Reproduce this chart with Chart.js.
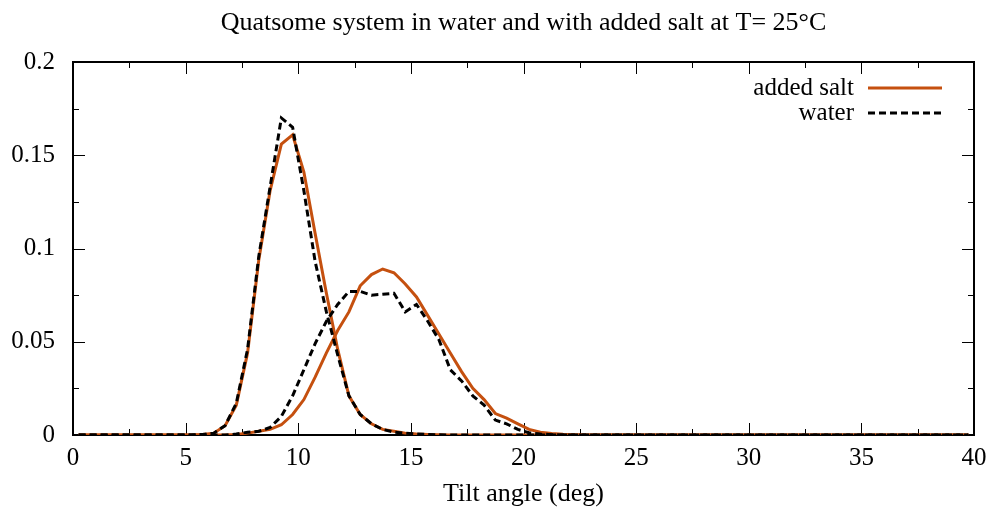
<!DOCTYPE html>
<html>
<head>
<meta charset="utf-8">
<title>Quatsome tilt angle</title>
<script src="https://cdn.jsdelivr.net/npm/chart.js@4.4.1/dist/chart.umd.min.js"></script>
<style>
  html, body { margin: 0; padding: 0; background: #fff; }
  canvas { display: block; }
</style>
</head>
<body>
<canvas id="tiltChart" width="991" height="514"></canvas>
<script>
// bin centres, deg
const angles = [
  0.25, 0.75, 1.25, 1.75, 2.25, 2.75, 3.25, 3.75, 4.25, 4.75,
  5.25, 5.75, 6.25, 6.75, 7.25, 7.75, 8.25, 8.75, 9.25, 9.75,
  10.25, 10.75, 11.25, 11.75, 12.25, 12.75, 13.25, 13.75, 14.25, 14.75,
  15.25, 15.75, 16.25, 16.75, 17.25, 17.75, 18.25, 18.75, 19.25, 19.75,
  20.25, 20.75, 21.25, 21.75, 22.25, 22.75, 23.25, 23.75, 24.25, 24.75,
  25.25, 25.75, 26.25, 26.75, 27.25, 27.75, 28.25, 28.75, 29.25, 29.75,
  30.25, 30.75, 31.25, 31.75, 32.25, 32.75, 33.25, 33.75, 34.25, 34.75,
  35.25, 35.75, 36.25, 36.75, 37.25, 37.75, 38.25, 38.75, 39.25, 39.75
];

// added salt
const saltNarrow = [
  0, 0, 0, 0, 0, 0, 0, 0, 0, 0,
  0, 0.0003, 0.001, 0.005, 0.016, 0.044, 0.094, 0.131, 0.156, 0.161,
  0.141, 0.108, 0.076, 0.046, 0.021, 0.011, 0.006, 0.003, 0.002, 0.001,
  0.0005, 0.0003, 0.0001, 0, 0, 0, 0, 0, 0, 0,
  0, 0, 0, 0, 0, 0, 0, 0, 0, 0,
  0, 0, 0, 0, 0, 0, 0, 0, 0, 0,
  0, 0, 0, 0, 0, 0, 0, 0, 0, 0,
  0, 0, 0, 0, 0, 0, 0, 0, 0, 0
];
const saltBroad = [
  0, 0, 0, 0, 0, 0, 0, 0, 0, 0,
  0, 0, 0, 0, 0.0003, 0.001, 0.002, 0.003, 0.0055, 0.011,
  0.019, 0.031, 0.044, 0.056, 0.066, 0.080, 0.086, 0.089, 0.087, 0.081,
  0.074, 0.064, 0.054, 0.044, 0.034, 0.025, 0.019, 0.0115, 0.009, 0.006,
  0.003, 0.0015, 0.0008, 0.0004, 0.0002, 0, 0, 0, 0, 0,
  0, 0, 0, 0, 0, 0, 0, 0, 0, 0,
  0, 0, 0, 0, 0, 0, 0, 0, 0, 0,
  0, 0, 0, 0, 0, 0, 0, 0, 0, 0
];

// water
const waterNarrow = [
  0, 0, 0, 0, 0, 0, 0, 0, 0, 0,
  0, 0.0003, 0.001, 0.005, 0.017, 0.046, 0.096, 0.133, 0.170, 0.165,
  0.131, 0.093, 0.066, 0.043, 0.021, 0.011, 0.006, 0.003, 0.0015, 0.001,
  0.0005, 0.0003, 0.0001, 0, 0, 0, 0, 0, 0, 0,
  0, 0, 0, 0, 0, 0, 0, 0, 0, 0,
  0, 0, 0, 0, 0, 0, 0, 0, 0, 0,
  0, 0, 0, 0, 0, 0, 0, 0, 0, 0,
  0, 0, 0, 0, 0, 0, 0, 0, 0, 0
];
const waterBroad = [
  0, 0, 0, 0, 0, 0, 0, 0, 0, 0,
  0, 0, 0, 0, 0.0005, 0.0015, 0.002, 0.004, 0.010, 0.021,
  0.035, 0.049, 0.061, 0.070, 0.077, 0.077, 0.075, 0.0755, 0.076, 0.066,
  0.070, 0.061, 0.051, 0.035, 0.029, 0.021, 0.016, 0.008, 0.006, 0.003,
  0.0012, 0.0005, 0.0002, 0, 0, 0, 0, 0, 0, 0,
  0, 0, 0, 0, 0, 0, 0, 0, 0, 0,
  0, 0, 0, 0, 0, 0, 0, 0, 0, 0,
  0, 0, 0, 0, 0, 0, 0, 0, 0, 0
];

// axes
const xTicks = [0, 5, 10, 15, 20, 25, 30, 35, 40];
const xTickLabels = ["0", "5", "10", "15", "20", "25", "30", "35", "40"];
const yTicks = [0, 0.05, 0.1, 0.15, 0.2];
const yTickLabels = ["0", "0.05", "0.1", "0.15", "0.2"];
const chartTitle = "Quatsome system in water and with added salt at T= 25°C";

const serif = "'Liberation Serif', 'DejaVu Serif', serif";
const SALT = "#c5500f";

const pts = (vals) => angles.map((a, i) => ({ x: a, y: vals[i] }));

// gnuplot-style border with inward ticks on all four sides
const framePlugin = {
  id: "frame",
  beforeDatasetsDraw(chart) {
    const { ctx, chartArea: a, scales: { x, y } } = chart;
    ctx.save();
    ctx.strokeStyle = "#000";
    ctx.lineWidth = 1;
    for (let v = 0; v <= 40; v += 2.5) {
      const px = Math.round(x.getPixelForValue(v)) + 0.5;
      const len = v % 5 === 0 ? 12 : 6;
      ctx.beginPath();
      ctx.moveTo(px, a.bottom); ctx.lineTo(px, a.bottom - len);
      ctx.moveTo(px, a.top); ctx.lineTo(px, a.top + len);
      ctx.stroke();
    }
    for (let v = 0; v <= 0.2001; v += 0.025) {
      const py = Math.round(y.getPixelForValue(v)) + 0.5;
      const len = Math.round(v / 0.025) % 2 === 0 ? 12 : 6;
      ctx.beginPath();
      ctx.moveTo(a.left, py); ctx.lineTo(a.left + len, py);
      ctx.moveTo(a.right, py); ctx.lineTo(a.right - len, py);
      ctx.stroke();
    }
    ctx.lineWidth = 2;
    ctx.strokeRect(a.left, a.top, a.right - a.left, a.bottom - a.top);

    // title, centred over the plot box
    ctx.fillStyle = "#000";
    ctx.font = "26px " + serif;
    ctx.textAlign = "center";
    ctx.textBaseline = "middle";
    ctx.fillText(chartTitle, (a.left + a.right) / 2, 23);
    ctx.restore();
  }
};

// key in the top right: text first, then line sample
const keyPlugin = {
  id: "gnuKey",
  afterDatasetsDraw(chart) {
    const { ctx, chartArea: a } = chart;
    const keyed = chart.data.datasets.filter(d => d.showKey);
    ctx.save();
    ctx.font = "25px " + serif;
    ctx.textAlign = "right";
    ctx.textBaseline = "middle";
    keyed.forEach((d, i) => {
      const yy = a.top + 26 + i * 25;
      ctx.fillStyle = "#000";
      ctx.fillText(d.label, a.right - 120, yy);
      ctx.strokeStyle = d.borderColor;
      ctx.lineWidth = 3;
      ctx.setLineDash(d.borderDash || []);
      ctx.beginPath();
      ctx.moveTo(a.right - 106, yy);
      ctx.lineTo(a.right - 32, yy);
      ctx.stroke();
    });
    ctx.restore();
  }
};

const line = (label, vals, color, dash, order, showKey) => ({
  label, data: pts(vals), borderColor: color, borderWidth: 3,
  borderDash: dash, borderCapStyle: "butt", pointRadius: 0,
  tension: 0, fill: false, order, showKey
});

new Chart(document.getElementById("tiltChart"), {
  type: "line",
  data: {
    datasets: [
      line("added salt", saltNarrow, SALT, [], 2, true),
      line("added salt", saltBroad, SALT, [], 2, false),
      line("water", waterNarrow, "#000", [7, 4], 1, true),
      line("water", waterBroad, "#000", [7, 4], 1, false)
    ]
  },
  options: {
    responsive: false,
    animation: false,
    devicePixelRatio: 1,
    layout: { padding: { left: 0, right: 17, top: 62, bottom: 0 } },
    plugins: {
      legend: { display: false },
      tooltip: { enabled: false },
      title: { display: false }
    },
    scales: {
      x: {
        type: "linear", min: 0, max: 40,
        afterBuildTicks: s => { s.ticks = xTicks.map(v => ({ value: v })); },
        afterFit: s => { s.height = 79; s.paddingLeft = 0; s.paddingRight = 0; },
        grid: { display: false, drawTicks: false },
        border: { display: false },
        ticks: {
          color: "#000", font: { family: serif, size: 25 }, padding: 8,
          maxRotation: 0, autoSkip: false,
          callback: (v, i) => xTickLabels[i]
        },
        title: {
          display: true, text: "Tilt angle (deg)", color: "#000",
          font: { family: serif, size: 26 }, padding: { top: 0, bottom: 4 }
        }
      },
      y: {
        type: "linear", min: 0, max: 0.2,
        afterBuildTicks: s => { s.ticks = yTicks.map(v => ({ value: v })); },
        afterFit: s => { s.width = 73; s.paddingTop = 0; s.paddingBottom = 0; },
        grid: { display: false, drawTicks: false },
        border: { display: false },
        ticks: {
          color: "#000", font: { family: serif, size: 25 }, padding: 18,
          callback: (v, i) => yTickLabels[i]
        }
      }
    }
  },
  plugins: [framePlugin, keyPlugin]
});
</script>
</body>
</html>
